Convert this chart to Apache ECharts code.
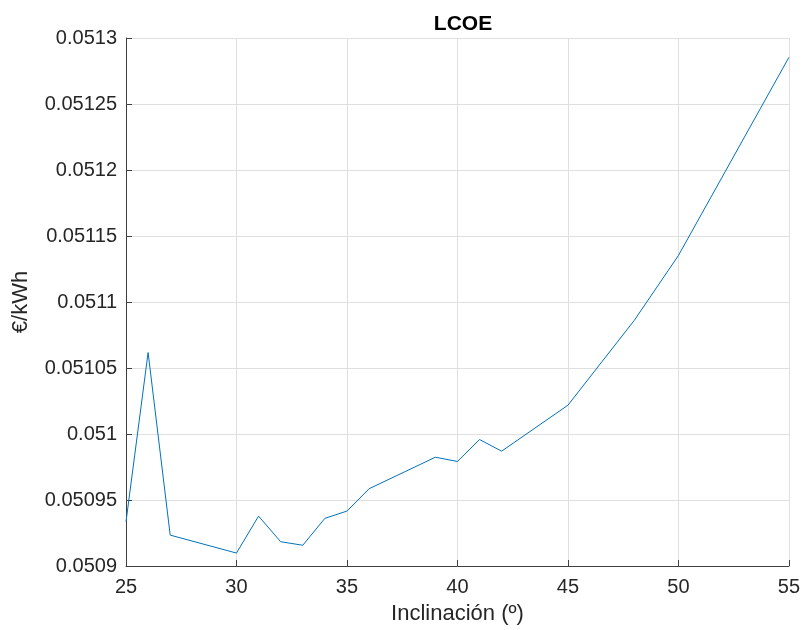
<!DOCTYPE html>
<html>
<head>
<meta charset="utf-8">
<script src="https://cdn.jsdelivr.net/npm/echarts@6/dist/echarts.min.js"></script>
<style>html,body{margin:0;padding:0;background:#fff}#c{width:803px;height:630px}</style>
</head>
<body>
<div id="c"></div>
<script>
const inclinacion = [25, 26, 27, 30, 31, 32, 33, 34, 35, 36, 39, 40, 41, 42, 45, 48, 50, 55];
const lcoe = [0.0509335, 0.0510617, 0.0509234, 0.0509098, 0.0509378, 0.0509184, 0.0509157, 0.0509361, 0.0509416, 0.0509585, 0.0509824, 0.0509792, 0.0509958, 0.050987, 0.0510218, 0.051086, 0.0511352, 0.0512853];
const yTickLabels = ['0.0509', '0.05095', '0.051', '0.05105', '0.0511', '0.05115', '0.0512', '0.05125', '0.0513'];
const titleText = 'LCOE';
const xName = 'Inclinación (º)';
const yName = '€/kWh';

const chart = echarts.init(document.getElementById('c'));
const font = '"Liberation Sans", Arial, Helvetica, sans-serif';
chart.setOption({
  animation: false,
  title: { text: titleText, left: 458, textAlign: 'center', top: 9,
    textStyle: { fontFamily: font, fontSize: 21, fontWeight: 'bold', color: '#000' } },
  grid: { left: 126, right: 13, top: 38, bottom: 64 },
  xAxis: {
    type: 'value', min: 25, max: 55, interval: 5,
    name: xName, nameLocation: 'middle', nameGap: 37,
    nameTextStyle: { fontFamily: font, fontSize: 22, color: '#262626' },
    axisLine: { show: true, lineStyle: { color: '#404040', width: 1 } },
    axisTick: { show: true, inside: true, length: 6, lineStyle: { color: '#404040' } },
    axisLabel: { fontFamily: font, fontSize: 20, color: '#262626', margin: 11 },
    splitLine: { show: true, lineStyle: { color: '#dfdfdf', width: 1 } }
  },
  yAxis: {
    type: 'value', min: 0.0509, max: 0.0513, interval: 0.00005,
    name: yName, nameLocation: 'middle', nameGap: 94, nameRotate: 90,
    nameTextStyle: { fontFamily: font, fontSize: 22, color: '#262626' },
    axisLine: { show: true, lineStyle: { color: '#404040', width: 1 } },
    axisTick: { show: true, inside: true, length: 6, lineStyle: { color: '#404040' } },
    axisLabel: { fontFamily: font, fontSize: 20, color: '#262626', margin: 9,
      formatter: function (v) {
        const idx = Math.round((v - 0.0509) / 0.00005);
        return yTickLabels[idx] !== undefined ? yTickLabels[idx] : '';
      } },
    splitLine: { show: true, lineStyle: { color: '#dfdfdf', width: 1 } }
  },
  series: [{
    type: 'line',
    data: inclinacion.map((x, i) => [x, lcoe[i]]),
    showSymbol: false,
    lineStyle: { color: '#0072BD', width: 1 },
    itemStyle: { color: '#0072BD' }
  }]
});
</script>
</body>
</html>
